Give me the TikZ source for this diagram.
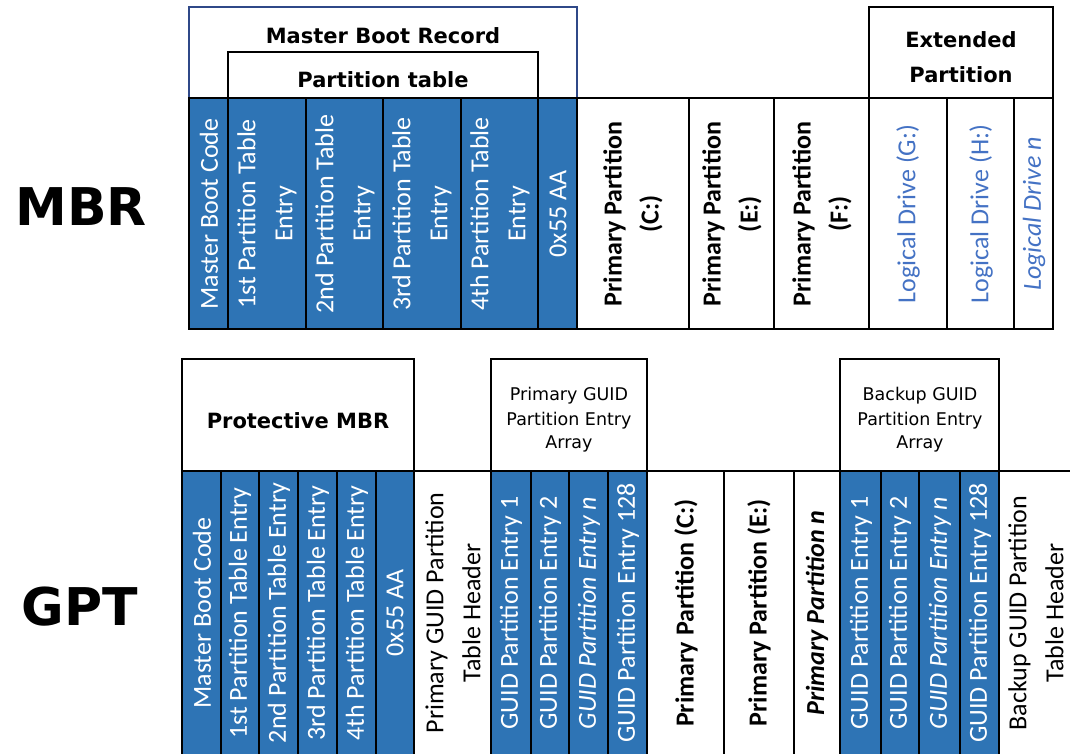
\documentclass[tikz,border=0pt]{standalone}
\usepackage{fontspec}
\newfontfamily\cellfamily{Carlito}
\newfontfamily\headfamily{DejaVu Sans}
\definecolor{cellblue}{RGB}{46,116,181}
\definecolor{drivetext}{RGB}{68,114,196}
\definecolor{recordline}{RGB}{47,72,136}

\begin{document}
\begin{tikzpicture}[x=1pt, y=-1pt, line width=1.1pt,
  bluecell/.style={draw=black, fill=cellblue},
  whitecell/.style={draw=black},
  vlabel/.style={rotate=90, align=center, inner sep=0pt, font=\cellfamily\fontsize{26}{37}\selectfont},
  blabel/.style={vlabel, text=white},
  head/.style={anchor=base, font=\headfamily\bfseries\fontsize{21}{25}\selectfont},
  arrayhead/.style={anchor=base, font=\headfamily\fontsize{17.5}{21}\selectfont},
  rowlabel/.style={anchor=base, font=\headfamily\bfseries\fontsize{52}{60}\selectfont}]

\useasboundingbox (0,0) rectangle (1070,753);
\clip (0,0) rectangle (1070,753);

\node [rowlabel] (mbr) at (81,225) {MBR};
\node [rowlabel] (gpt) at (80,625) {GPT};

\draw [draw=recordline] (189,98)--(189,7)--(577,7)--(577,98);
\node [head] (record) at (383,43) {Master Boot Record};
\draw (228,98)--(228,52)--(538,52)--(538,98);
\node [head] (ptable) at (383,87) {Partition table};
\draw (869,98)--(869,7)--(1053,7)--(1053,98);
\node [head] (ext1) at (961,47) {Extended};
\node [head] (ext2) at (961,82) {Partition};

\draw [bluecell] (189,98) rectangle (228,329);
\draw [bluecell] (228,98) rectangle (306,329);
\draw [bluecell] (306,98) rectangle (383,329);
\draw [bluecell] (383,98) rectangle (461,329);
\draw [bluecell] (461,98) rectangle (538,329);
\draw [bluecell] (538,98) rectangle (577,329);
\draw [whitecell] (577,98) rectangle (689,329);
\draw [whitecell] (689,98) rectangle (774,329);
\draw [whitecell] (774,98) rectangle (869,329);
\draw [whitecell] (869,98) rectangle (947,329);
\draw [whitecell] (947,98) rectangle (1014,329);
\draw [whitecell] (1014,98) rectangle (1053,329);

\node [blabel] (mcode) at (209,214) {Master Boot Code};
\node [blabel] (mpte1) at (267,214) {1st Partition Table\\Entry};
\node [blabel] (mpte2) at (345,214) {2nd Partition Table\\Entry};
\node [blabel] (mpte3) at (422,214) {3rd Partition Table\\Entry};
\node [blabel] (mpte4) at (500,214) {4th Partition Table\\Entry};
\node [blabel] (msig) at (558,214) {0x55 AA};
\node [vlabel, font=\cellfamily\bfseries\fontsize{26}{37}\selectfont] (mpc) at (633,214) {Primary Partition\\(C:)};
\node [vlabel, font=\cellfamily\bfseries\fontsize{26}{37}\selectfont] (mpe) at (732,214) {Primary Partition\\(E:)};
\node [vlabel, font=\cellfamily\bfseries\fontsize{26}{37}\selectfont] (mpf) at (822,214) {Primary Partition\\(F:)};
\node [vlabel, text=drivetext] (ldg) at (908,214) {Logical Drive (G:)};
\node [vlabel, text=drivetext] (ldh) at (981,214) {Logical Drive (H:)};
\node [vlabel, text=drivetext, font=\cellfamily\itshape\fontsize{26}{37}\selectfont] (ldn) at (1034,214) {Logical Drive n};

\draw (182,471)--(182,359)--(414,359)--(414,471);
\node [head] (protect) at (298,428) {Protective MBR};
\draw (491,471)--(491,359)--(647,359)--(647,471);
\node [arrayhead] (parr1) at (569,400) {Primary GUID};
\node [arrayhead] (parr2) at (569,425) {Partition Entry};
\node [arrayhead] (parr3) at (569,448) {Array};
\draw (840,471)--(840,359)--(999,359)--(999,471);
\node [arrayhead] (barr1) at (920,400) {Backup GUID};
\node [arrayhead] (barr2) at (920,425) {Partition Entry};
\node [arrayhead] (barr3) at (920,448) {Array};

\draw [bluecell] (182,471) rectangle (221,756);
\draw [bluecell] (221,471) rectangle (259,756);
\draw [bluecell] (259,471) rectangle (298,756);
\draw [bluecell] (298,471) rectangle (337,756);
\draw [bluecell] (337,471) rectangle (376,756);
\draw [bluecell] (376,471) rectangle (414,756);
\draw [whitecell] (414,471) rectangle (491,756);
\draw [bluecell] (491,471) rectangle (531,756);
\draw [bluecell] (531,471) rectangle (569,756);
\draw [bluecell] (569,471) rectangle (608,756);
\draw [bluecell] (608,471) rectangle (647,756);
\draw [whitecell] (647,471) rectangle (724,756);
\draw [whitecell] (724,471) rectangle (794,756);
\draw [whitecell] (794,471) rectangle (840,756);
\draw [bluecell] (840,471) rectangle (881,756);
\draw [bluecell] (881,471) rectangle (919,756);
\draw [bluecell] (919,471) rectangle (960,756);
\draw [bluecell] (960,471) rectangle (999,756);
\draw [whitecell] (999,471) rectangle (1081,756);

\node [blabel] (gcode) at (202,613) {Master Boot Code};
\node [blabel] (gpte1) at (240,613) {1st Partition Table Entry};
\node [blabel] (gpte2) at (279,613) {2nd Partition Table Entry};
\node [blabel] (gpte3) at (318,613) {3rd Partition Table Entry};
\node [blabel] (gpte4) at (357,613) {4th Partition Table Entry};
\node [blabel] (gsig) at (395,613) {0x55 AA};
\node [vlabel] (phead) at (453,613) {Primary GUID Partition\\Table Header};
\node [blabel] (pent1) at (511,613) {GUID Partition Entry 1};
\node [blabel] (pent2) at (550,613) {GUID Partition Entry 2};
\node [blabel, font=\cellfamily\itshape\fontsize{26}{37}\selectfont] (pentn) at (589,613) {GUID Partition Entry n};
\node [blabel] (pent128) at (628,613) {GUID Partition Entry 128};
\node [vlabel, font=\cellfamily\bfseries\fontsize{26}{37}\selectfont] (gpc) at (686,613) {Primary Partition (C:)};
\node [vlabel, font=\cellfamily\bfseries\fontsize{26}{37}\selectfont] (gpe) at (759,613) {Primary Partition (E:)};
\node [vlabel, font=\cellfamily\bfseries\itshape\fontsize{26}{37}\selectfont] (gpn) at (817,613) {Primary Partition n};
\node [blabel] (bent1) at (861,613) {GUID Partition Entry 1};
\node [blabel] (bent2) at (900,613) {GUID Partition Entry 2};
\node [blabel, font=\cellfamily\itshape\fontsize{26}{37}\selectfont] (bentn) at (940,613) {GUID Partition Entry n};
\node [blabel] (bent128) at (980,613) {GUID Partition Entry 128};
\node [vlabel] (bhead) at (1036,613) {Backup GUID Partition\\Table Header};

\end{tikzpicture}
\end{document}
